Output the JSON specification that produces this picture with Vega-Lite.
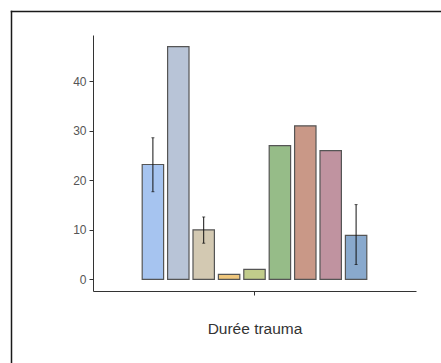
{
  "$schema": "https://vega.github.io/schema/vega-lite/v6.json",
  "width": 430,
  "height": 352,
  "padding": {"left": 11, "top": 11, "right": 0, "bottom": 0},
  "autosize": {"type": "none"},
  "config": {
    "view": {"stroke": null},
    "font": "Liberation Sans"
  },
  "data": {
    "values": [
      {"var": "Durée trauma", "group": "g1", "value": 23.2, "lo": 17.7, "hi": 28.6, "color": "#A6C4F0"},
      {"var": "Durée trauma", "group": "g2", "value": 47, "lo": null, "hi": null, "color": "#B8C4D7"},
      {"var": "Durée trauma", "group": "g3", "value": 10, "lo": 7.3, "hi": 12.6, "color": "#D3C9B2"},
      {"var": "Durée trauma", "group": "g4", "value": 1, "lo": null, "hi": null, "color": "#EFC77D"},
      {"var": "Durée trauma", "group": "g5", "value": 2, "lo": null, "hi": null, "color": "#C1CC8B"},
      {"var": "Durée trauma", "group": "g6", "value": 27, "lo": null, "hi": null, "color": "#96BC88"},
      {"var": "Durée trauma", "group": "g7", "value": 31, "lo": null, "hi": null, "color": "#C99887"},
      {"var": "Durée trauma", "group": "g8", "value": 26, "lo": null, "hi": null, "color": "#C093A0"},
      {"var": "Durée trauma", "group": "g9", "value": 8.9, "lo": 3.0, "hi": 15.1, "color": "#89A9CD"}
    ]
  },
  "layer": [
    {
      "encoding": {
        "x": {
          "field": "var",
          "type": "nominal",
          "scale": {"range": [82, 405], "paddingInner": 0, "paddingOuter": 0.2065},
          "axis": {
            "orient": "bottom",
            "labels": false,
            "offset": -72,
            "ticks": true,
            "tickSize": 4,
            "tickColor": "#333333",
            "domainColor": "#333333",
            "title": "Durée trauma",
            "titleFont": "Liberation Sans",
            "titleFontSize": 15.5,
            "titleFontWeight": "normal",
            "titleColor": "#333333",
            "titlePadding": 26
          }
        },
        "xOffset": {
          "field": "group",
          "type": "nominal",
          "sort": null,
          "scale": {"paddingInner": 0.157, "paddingOuter": 0.0785}
        }
      },
      "layer": [
        {
          "mark": {"type": "bar", "stroke": "#555555", "strokeWidth": 1.2},
          "encoding": {
            "y": {
              "field": "value",
              "type": "quantitative",
              "scale": {"domain": [-2.35, 49.35], "range": [280, 24], "nice": false, "zero": false},
              "axis": {
                "orient": "left",
                "offset": -82,
                "values": [0, 10, 20, 30, 40],
                "grid": false,
                "title": null,
                "tickSize": 4,
                "tickColor": "#333333",
                "domainColor": "#333333",
                "labelFont": "Liberation Sans",
                "labelFontSize": 12,
                "labelColor": "#555555",
                "labelPadding": 3
              }
            },
            "y2": {"datum": 0},
            "fill": {"field": "color", "type": "nominal", "scale": null}
          }
        },
        {
          "transform": [{"filter": "datum.lo != null"}],
          "mark": {"type": "rule", "color": "#111111", "strokeWidth": 1},
          "encoding": {
            "y": {"field": "lo", "type": "quantitative"},
            "y2": {"field": "hi"}
          }
        },
        {
          "transform": [{"filter": "datum.lo != null"}],
          "mark": {"type": "tick", "color": "#111111", "orient": "horizontal", "size": 3, "thickness": 1},
          "encoding": {
            "y": {"field": "lo", "type": "quantitative"}
          }
        },
        {
          "transform": [{"filter": "datum.lo != null"}],
          "mark": {"type": "tick", "color": "#111111", "orient": "horizontal", "size": 3, "thickness": 1},
          "encoding": {
            "y": {"field": "hi", "type": "quantitative"}
          }
        }
      ]
    },
    {
      "mark": {"type": "point", "opacity": 0, "size": 0},
      "encoding": {
        "x": {
          "datum": 0.5,
          "type": "quantitative",
          "scale": {"domain": [0, 1]},
          "axis": {"orient": "top", "labels": false, "ticks": false, "grid": false, "title": null, "domainColor": "#1a1a1a", "domainWidth": 1.5, "domainCap": "square"}
        },
        "y": {
          "datum": 0.5,
          "type": "quantitative",
          "scale": {"domain": [0, 1]},
          "axis": {"orient": "right", "offset": -430, "labels": false, "ticks": false, "grid": false, "title": null, "domainColor": "#1a1a1a", "domainWidth": 1.5, "domainCap": "square"}
        }
      }
    }
  ],
  "resolve": {
    "scale": {"x": "independent", "y": "independent"},
    "axis": {"x": "independent", "y": "independent"}
  }
}
